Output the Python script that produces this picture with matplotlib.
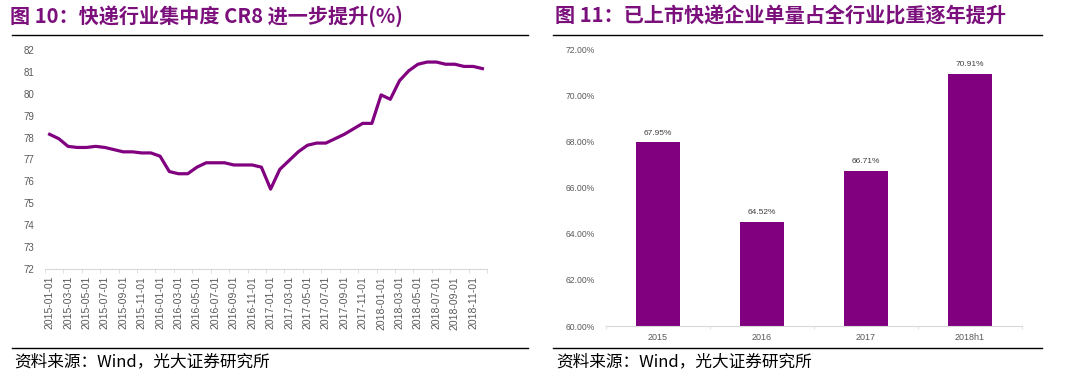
import numpy as np
import matplotlib.pyplot as plt
from matplotlib.lines import Line2D

#===============================================================
# === données
#===============================================================

months = ['2015-01-01', '2015-02-01', '2015-03-01', '2015-04-01', '2015-05-01', '2015-06-01',
          '2015-07-01', '2015-08-01', '2015-09-01', '2015-10-01', '2015-11-01', '2015-12-01',
          '2016-01-01', '2016-02-01', '2016-03-01', '2016-04-01', '2016-05-01', '2016-06-01',
          '2016-07-01', '2016-08-01', '2016-09-01', '2016-10-01', '2016-11-01', '2016-12-01',
          '2017-01-01', '2017-02-01', '2017-03-01', '2017-04-01', '2017-05-01', '2017-06-01',
          '2017-07-01', '2017-08-01', '2017-09-01', '2017-10-01', '2017-11-01', '2017-12-01',
          '2018-01-01', '2018-02-01', '2018-03-01', '2018-04-01', '2018-05-01', '2018-06-01',
          '2018-07-01', '2018-08-01', '2018-09-01', '2018-10-01', '2018-11-01', '2018-12-01']
cr8 = [78.15, 77.95, 77.6, 77.55, 77.55, 77.6, 77.55, 77.45, 77.35, 77.35, 77.3, 77.3,
       77.15, 76.45, 76.35, 76.35, 76.65, 76.85, 76.85, 76.85, 76.75, 76.75, 76.75, 76.65,
       75.65, 76.55, 76.95, 77.35, 77.65, 77.75, 77.75, 77.95, 78.15, 78.4, 78.65, 78.65,
       79.95, 79.75, 80.6, 81.05, 81.35, 81.45, 81.45, 81.35, 81.35, 81.25, 81.25, 81.15]

years = ['2015', '2016', '2017', '2018h1']
share = [67.95, 64.52, 66.71, 70.91]

title_l = '图 10：快递行业集中度 CR8 进一步提升(%)'
title_r = '图 11：已上市快递企业单量占全行业比重逐年提升'
source = '资料来源：Wind，光大证券研究所'

purple = '#800080'
title_col = '#7B0F7B'
grey = '#595959'
axis_col = '#D9D9D9'
cjk = ['Noto Sans CJK SC', 'DejaVu Sans']
num_font = 'Liberation Sans'

fig = plt.figure(figsize=(10.79, 3.74), dpi=100)
W, H = 1079, 374

#===============================================================
# == titres, filets et sources
fig.text(10 / W, 1 - 16 / H, title_l, family=cjk, fontsize=14.5, fontweight='bold',
         color=title_col, va='center', ha='left')
fig.text(555 / W, 1 - 16 / H, title_r, family=cjk, fontsize=14.5, fontweight='bold',
         color=title_col, va='center', ha='left')
for x0, x1 in [(12, 528), (553, 1042)]:
    for y in [35, 348]:
        fig.add_artist(Line2D([x0 / W, x1 / W], [1 - y / H, 1 - y / H], color='black', lw=1.0))
fig.text(14 / W, 1 - 362 / H, source, family=cjk, fontsize=12, color='black', va='center', ha='left')
fig.text(556 / W, 1 - 362 / H, source, family=cjk, fontsize=12, color='black', va='center', ha='left')

#===============================================================
# == courbe CR8
ax1 = fig.add_axes([45 / W, 1 - 269 / H, (487 - 45) / W, (269 - 50) / H])
x = np.arange(len(months))
ax1.plot(x, cr8, color=purple, lw=2.3, solid_joinstyle='round')
ax1.set_xlim(-0.5, len(months) - 0.5)
ax1.set_ylim(72, 82)
ax1.set_yticks(np.arange(72, 83, 1))
ax1.set_xticks(x[::2])
ax1.set_xticklabels(months[::2], rotation=90)
ax1.set_xticks(np.arange(-0.5, len(months), 2), minor=True)
ax1.tick_params(axis='x', which='major', length=0, pad=5, labelsize=7.5, labelcolor=grey)
ax1.tick_params(axis='x', which='minor', length=3, color=axis_col, direction='out')
ax1.tick_params(axis='y', length=0, pad=8, labelsize=7, labelcolor=grey)
for lab in ax1.get_xticklabels() + ax1.get_yticklabels():
    lab.set_family(num_font)
for s in ['top', 'right', 'left']:
    ax1.spines[s].set_visible(False)
ax1.spines['bottom'].set_color(axis_col)

#===============================================================
# == barres
ax2 = fig.add_axes([606 / W, 1 - 326 / H, (1022 - 606) / W, (326 - 49) / H])
xb = np.arange(len(years))
bars = ax2.bar(xb, share, width=0.42, color=purple)
for b, v in zip(bars, share):
    ax2.text(b.get_x() + b.get_width() / 2, v + 0.25, '%.2f%%' % v, ha='center', va='bottom',
             fontsize=6, color='#404040', family=num_font)
ax2.set_xlim(-0.5, len(years) - 0.5)
ax2.set_ylim(60, 72)
ax2.set_yticks(np.arange(60, 73, 2))
ax2.set_yticklabels(['%.2f%%' % v for v in np.arange(60, 73, 2)])
ax2.set_xticks(xb)
ax2.set_xticklabels(years)
ax2.set_xticks(np.arange(-0.5, len(years), 1), minor=True)
ax2.tick_params(axis='x', which='major', length=0, pad=5, labelsize=6.5, labelcolor=grey)
ax2.tick_params(axis='x', which='minor', length=2, color=axis_col)
ax2.tick_params(axis='y', length=0, pad=8, labelsize=6.2, labelcolor=grey)
for lab in ax2.get_xticklabels() + ax2.get_yticklabels():
    lab.set_family(num_font)
for s in ['top', 'right', 'left']:
    ax2.spines[s].set_visible(False)
ax2.spines['bottom'].set_color(axis_col)

fig.savefig('out.png', dpi=100)
